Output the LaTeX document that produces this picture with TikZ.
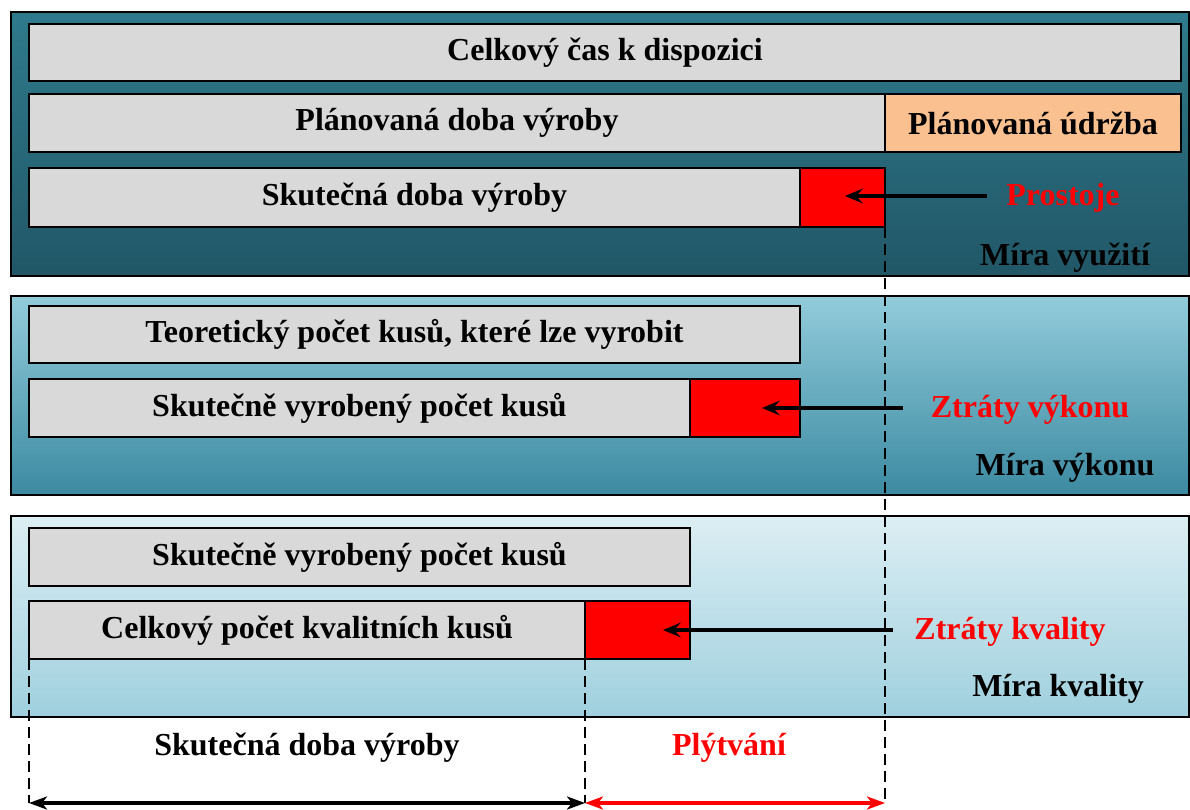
\documentclass[tikz,border=0pt]{standalone}
\usepackage{fontspec}
\setmainfont{Liberation Serif}
\usetikzlibrary{arrows.meta}
\definecolor{barg}{HTML}{D9D9D9}
\definecolor{orng}{HTML}{FAC090}
\definecolor{redc}{HTML}{FF0000}
\definecolor{pAt}{HTML}{2E7A8C}
\definecolor{pAb}{HTML}{215767}
\definecolor{pBt}{HTML}{92CCDB}
\definecolor{pBb}{HTML}{3C8AA1}
\definecolor{pCt}{HTML}{DCEEF3}
\definecolor{pCb}{HTML}{9FD0DE}
\tikzset{
  panel/.style={draw=black, line width=2.2pt, shading=axis, shading angle=0},
  bar/.style={draw=black, line width=2.2pt, fill=barg, anchor=north west, inner sep=0pt, outer sep=0pt, font=\bfseries},
  redbox/.style={draw=black, line width=2.2pt, fill=redc, anchor=north west, inner sep=0pt, outer sep=0pt},
  orbox/.style={draw=black, line width=2.2pt, fill=orng, anchor=north west, inner sep=0pt, outer sep=0pt, font=\bfseries},
  lbl/.style={font=\bfseries, text=black, inner sep=2pt},
  rlbl/.style={font=\bfseries, text=redc, inner sep=2pt},
  larr/.style={draw=black, line width=3.6pt, -{Stealth[length=18pt,width=15pt,inset=7pt]}},
  dsh/.style={draw=black, line width=2.8pt, dash pattern=on 11pt off 6pt},
  dim/.style={line width=4pt, {Stealth[length=18pt,width=13pt,inset=5pt]}-{Stealth[length=18pt,width=13pt,inset=5pt]}},
}
\begin{document}
\begin{tikzpicture}[x=1pt,y=-1pt]
\fontsize{32}{36}\selectfont
\useasboundingbox (0,0) rectangle (1190,809);
% panels
\path[panel, top color=pAt, bottom color=pAb] (11,12) rectangle (1189,276);
\path[panel, top color=pBt, bottom color=pBb] (11,296) rectangle (1189,495);
\path[panel, top color=pCt, bottom color=pCb] (11,516) rectangle (1189,717);
% panel 1
\node[bar, minimum width=1152pt, minimum height=57pt] (celk) at (29,24) {Celkový čas k dispozici};
\node[bar, minimum width=856pt, minimum height=58pt] (plan) at (29,94) {Plánovaná doba výroby};
\node[orbox, minimum width=296pt, minimum height=58pt] (udrz) at (885,94) {Plánovaná údržba};
\node[bar, minimum width=771pt, minimum height=59pt] (skut) at (29,168) {Skutečná doba výroby};
\node[redbox, minimum width=85pt, minimum height=59pt] (r1) at (800,168) {};
\node[rlbl] (prost) at (1063,198) {Prostoje};
\node[lbl] (mv) at (1065,258) {Míra využití};
\coordinate (t1) at (845,196);
\coordinate (s1) at (987,196);
\draw[larr] (s1) -- (t1);
% panel 2
\node[bar, minimum width=771pt, minimum height=57pt] (teor) at (29,306) {Teoretický počet kusů, které lze vyrobit};
\node[bar, minimum width=661pt, minimum height=58pt] (skv) at (29,379) {Skutečně vyrobený počet kusů};
\node[redbox, minimum width=110pt, minimum height=58pt] (r2) at (690,379) {};
\node[rlbl] (zv) at (1030,410) {Ztráty výkonu};
\node[lbl] (mvk) at (1065,468) {Míra výkonu};
\coordinate (t2) at (762,408);
\coordinate (s2) at (903,408);
\draw[larr] (s2) -- (t2);
% panel 3
\node[bar, minimum width=661pt, minimum height=58pt] (skv2) at (29,528) {Skutečně vyrobený počet kusů};
\node[bar, minimum width=556pt, minimum height=58pt] (kval) at (29,601) {Celkový počet kvalitních kusů};
\node[redbox, minimum width=105pt, minimum height=58pt] (r3) at (585,601) {};
\node[rlbl] (zk) at (1010,632) {Ztráty kvality};
\node[lbl] (mk) at (1058,689) {Míra kvality};
\coordinate (t3) at (663,630);
\coordinate (s3) at (893,630);
\draw[larr] (s3) -- (t3);
% dashed lines and dimension arrows
\coordinate (b0) at (kval.south west |- 0,803);
\coordinate (b1) at (kval.south east |- 0,803);
\coordinate (b2) at (r1.south east |- 0,803);
\draw[dsh] (r1.south east) -- (b2);
\draw[dsh] (kval.south west) -- (b0);
\draw[dsh] (kval.south east) -- (b1);
\draw[dim, draw=black, fill=black] (b0) -- (b1);
\draw[dim, draw=redc, fill=redc] (b1) -- (b2);
\node[lbl] (sdv) at (307,748) {Skutečná doba výroby};
\node[rlbl] (plyt) at (729,748) {Plýtvání};
\end{tikzpicture}
\end{document}
